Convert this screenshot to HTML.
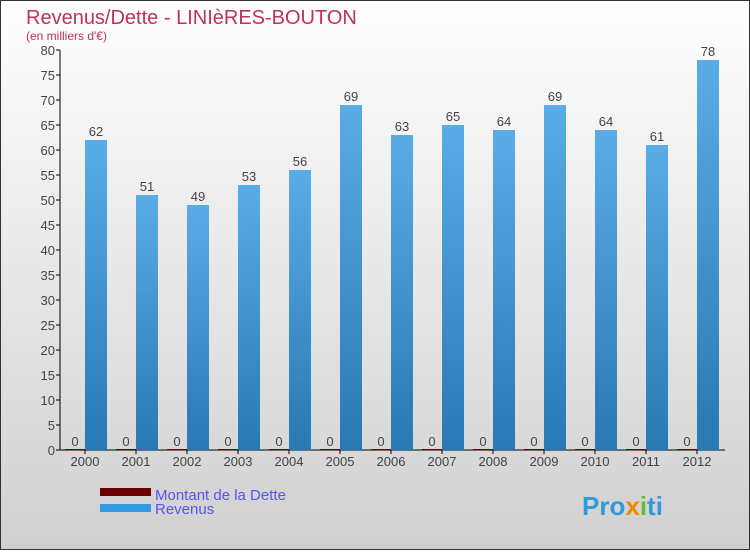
<!DOCTYPE html>
<html><head><meta charset="utf-8"><style>
body{margin:0;width:750px;height:550px;overflow:hidden;font-family:"Liberation Sans",sans-serif}
</style></head><body>
<svg width="750" height="550" xmlns="http://www.w3.org/2000/svg">
<defs>
<linearGradient id="bg" x1="0" y1="0" x2="0" y2="1"><stop offset="0" stop-color="#ffffff"/><stop offset="1" stop-color="#d0d0d0"/></linearGradient>
<linearGradient id="rev" x1="0" y1="0" x2="0" y2="1"><stop offset="0" stop-color="#5aace6"/><stop offset="1" stop-color="#2878b4"/></linearGradient>
</defs>
<rect x="0.5" y="0.5" width="749" height="549" fill="url(#bg)" stroke="#333"/>
<text x="26" y="24" font-size="20" fill="#c0305f">Revenus/Dette - LINIèRES-BOUTON</text>
<text x="26" y="40" font-size="12" fill="#c0305f">(en milliers d'€)</text>
<g id="axes"></g>
<g id="bars"></g>
<g>
<rect x="100" y="488" width="51" height="8" fill="#6b0000"/>
<text x="155" y="500" font-size="15" fill="#5555ee">Montant de la Dette</text>
<rect x="100" y="504" width="51" height="8" fill="#3399e0"/>
<text x="155" y="514" font-size="15" fill="#5555ee">Revenus</text>
</g>
<text x="582" y="515" font-size="26" font-weight="bold" fill="#3399dd">Pro<tspan fill="#ee8800">x</tspan><tspan fill="#66bb33">i</tspan>ti</text>
</svg>
<script>
const years=["2000","2001","2002","2003","2004","2005","2006","2007","2008","2009","2010","2011","2012"];
const revenus=[62,51,49,53,56,69,63,65,64,69,64,61,78];
const dette=[0,0,0,0,0,0,0,0,0,0,0,0,0];
const yTicks=[0,5,10,15,20,25,30,35,40,45,50,55,60,65,70,75,80];
const NS="http://www.w3.org/2000/svg";
const x0=60,band=51,yBase=450,yTop=50,yMax=80;
const y=v=>yBase-(v/yMax)*(yBase-yTop);
function mk(t,a,p){const e=document.createElementNS(NS,t);for(const k in a)e.setAttribute(k,a[k]);p.appendChild(e);return e;}
const ax=document.getElementById('axes'),bg=document.getElementById('bars');
yTicks.forEach(v=>{
 const l=mk('line',{x1:x0-4,x2:x0,y1:y(v),y2:y(v),stroke:'#000'},ax);
 
 
 const t=mk('text',{x:x0-5,y:y(v)+5,'font-size':13,fill:'#444','text-anchor':'end'},ax);t.textContent=v;
 
 
});
years.forEach((yr,i)=>{
 const cx=x0+25+band*i;
 const d=mk('rect',{x:cx-20,y:y(dette[i])-1,width:20,height:Math.max(1,yBase-y(dette[i])),fill:'#6b0000'},bg);
 
 
 const dl=mk('text',{x:cx-10,y:y(dette[i])-4,'font-size':13,fill:'#444','text-anchor':'middle'},bg);dl.textContent=dette[i];
 
 
 const r=mk('rect',{x:cx,y:y(revenus[i]),width:22,height:yBase-y(revenus[i]),fill:'url(#rev)'},bg);
 
 
 const rl=mk('text',{x:cx+11,y:y(revenus[i])-4,'font-size':13,fill:'#444','text-anchor':'middle'},bg);rl.textContent=revenus[i];
 
 
 const tk=mk('line',{x1:cx,x2:cx,y1:yBase,y2:yBase+4,stroke:'#000'},ax);
 
 
 const xl=mk('text',{x:cx,y:yBase+16,'font-size':13,fill:'#444','text-anchor':'middle'},ax);xl.textContent=yr;
 
 
});
const ya=mk('line',{x1:x0,x2:x0,y1:yTop,y2:yBase,stroke:'#000'},ax);


const xa=mk('line',{x1:x0,x2:725,y1:yBase,y2:yBase,stroke:'#000'},ax);


</script>
</body></html>
